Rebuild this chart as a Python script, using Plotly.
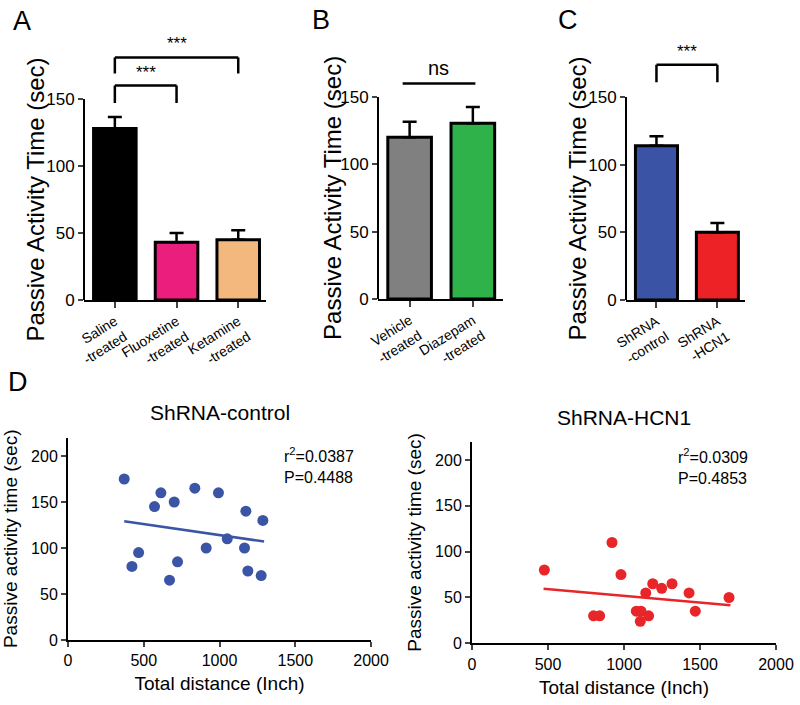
import plotly.graph_objects as go

FONT = "Arial, Liberation Sans, sans-serif"

# ---- panel A ----
a_labels = ["Saline<br>-treated", "Fluoxetine<br>-treated", "Ketamine<br>-treated"]
a_means = [128, 43, 45]
a_sem = [8.5, 7, 7]
a_colors = ["#000000", "#EC1E7D", "#F3B87D"]

# ---- panel B ----
b_labels = ["Vehicle<br>-treated", "Diazepam<br>-treated"]
b_means = [120, 130.5]
b_sem = [11.5, 12]
b_colors = ["#808080", "#2FB24A"]

# ---- panel C ----
c_labels = ["ShRNA<br>-control", "ShRNA<br>-HCN1"]
c_means = [114, 50]
c_sem = [7, 7]
c_colors = ["#3A53A4", "#EC2227"]

# ---- panel D ----
ctrl_dist = [371, 422, 466, 571, 613, 670, 701, 723, 837, 912, 993, 1051, 1165, 1174, 1187, 1275, 1286]
ctrl_time = [175, 80, 95, 145, 160, 65, 150, 85, 165, 100, 160, 110, 100, 140, 75, 70, 130]
ctrl_fit_x = [371, 1294]
ctrl_fit_y = [129, 107]

hcn_dist = [476, 800, 840, 921, 980, 1081, 1112, 1107, 1143, 1162, 1189, 1248, 1316, 1428, 1469, 1691]
hcn_time = [80, 30, 30, 110, 75, 35, 35, 24, 55, 30, 65, 60, 65, 55, 35, 50]
hcn_fit_x = [471, 1700]
hcn_fit_y = [59.6, 41.5]

fig = go.Figure()
shapes = []
annotations = []


def bar_panel(idx, labels, means, sem, colors, xdom, ydom, xmax, title_x):
    xa = "x" if idx == 1 else f"x{idx}"
    ya = "y" if idx == 1 else f"y{idx}"
    pos = list(range(len(labels)))
    fig.add_trace(
        go.Bar(
            x=pos,
            y=means,
            width=0.69,
            marker=dict(color=colors, line=dict(color="black", width=3)),
            error_y=dict(
                type="data",
                symmetric=False,
                array=sem,
                arrayminus=[0] * len(sem),
                color="black",
                thickness=2.5,
                width=7,
            ),
            xaxis=xa,
            yaxis=ya,
            showlegend=False,
        )
    )
    ax_name = "xaxis" if idx == 1 else f"xaxis{idx}"
    ay_name = "yaxis" if idx == 1 else f"yaxis{idx}"
    fig.layout[ax_name] = dict(
        domain=xdom,
        range=[-0.5, xmax],
        tickvals=pos,
        ticktext=labels,
        tickangle=-32,
        tickfont=dict(size=14, color="black"),
        showline=True,
        linecolor="black",
        linewidth=2,
        ticks="outside",
        ticklen=6,
        tickwidth=2,
        showgrid=False,
        zeroline=False,
        automargin=False,
        anchor=ya,
    )
    fig.layout[ay_name] = dict(
        domain=ydom,
        range=[0, 190],
        tickvals=[0, 50, 100, 150],
        tickfont=dict(size=17, color="black"),
        showline=False,
        ticks="outside",
        ticklen=5,
        tickwidth=2,
        showgrid=False,
        zeroline=False,
        automargin=False,
        anchor=xa,
    )
    # y axis line only up to 150
    shapes.append(dict(type="line", xref=f"{xa} domain", yref=ya, x0=0, x1=0, y0=0, y1=150,
                       line=dict(color="black", width=2)))
    # axis title centred on the 0-150 part of the axis
    annotations.append(dict(xref="paper", yref=ya, x=title_x, y=75, text="Passive Activity Time (sec)",
                            textangle=-90, showarrow=False, xanchor="center", yanchor="middle",
                            font=dict(size=24, color="black")))
    return xa, ya


def bracket(xa, ya, x0, x1, ytop, yleg, text):
    for (sx0, sy0, sx1, sy1) in [(x0, yleg, x0, ytop), (x0, ytop, x1, ytop), (x1, ytop, x1, yleg)]:
        shapes.append(dict(type="line", xref=xa, yref=ya, x0=sx0, y0=sy0, x1=sx1, y1=sy1,
                           line=dict(color="black", width=2.5)))
    annotations.append(dict(xref=xa, yref=ya, x=(x0 + x1) / 2, y=ytop, text=text, showarrow=False,
                            yanchor="bottom", yshift=2, font=dict(size=17, color="black")))


xa, ya = bar_panel(1, a_labels, a_means, a_sem, a_colors, [0.105, 0.3325], [0.5745, 0.9356], 2.45, 35 / 800)
bracket(xa, ya, 0, 1, 160, 147, "***")
bracket(xa, ya, 0, 2, 181, 169, "***")

xa, ya = bar_panel(2, b_labels, b_means, b_sem, b_colors, [0.4725, 0.629], [0.5759, 0.939], 1.48, 333 / 800)
shapes.append(dict(type="line", xref=xa, yref=ya, x0=-0.11, x1=1.04, y0=160, y1=160,
                   line=dict(color="black", width=2.5)))
annotations.append(dict(xref=xa, yref=ya, x=0.46, y=160, text="ns", showarrow=False,
                        yanchor="bottom", yshift=2, font=dict(size=20, color="black")))

xa, ya = bar_panel(3, c_labels, c_means, c_sem, c_colors, [0.7825, 0.931], [0.5745, 0.939], 1.45, 578 / 800)
bracket(xa, ya, 0, 1, 174, 161, "***")


def scatter_panel(idx, xs, ys, fx, fy, color, xdom, ydom, title, stats, sx, sy):
    xa = f"x{idx}"
    ya = f"y{idx}"
    fig.add_trace(go.Scatter(x=xs, y=ys, mode="markers", marker=dict(size=11, color=color),
                             xaxis=xa, yaxis=ya, showlegend=False))
    fig.add_trace(go.Scatter(x=fx, y=fy, mode="lines", line=dict(color=color, width=2.5),
                             xaxis=xa, yaxis=ya, showlegend=False))
    fig.layout[f"xaxis{idx}"] = dict(
        domain=xdom, range=[0, 2000], tickvals=[0, 500, 1000, 1500, 2000],
        tickfont=dict(size=16, color="black"), showline=True, linecolor="black", linewidth=2,
        ticks="outside", ticklen=5, tickwidth=2, showgrid=False, zeroline=False, automargin=False,
        title=dict(text="Total distance (Inch)", font=dict(size=19, color="black"), standoff=9),
        anchor=ya,
    )
    fig.layout[f"yaxis{idx}"] = dict(
        domain=ydom, range=[0, 220], tickvals=[0, 50, 100, 150, 200],
        tickfont=dict(size=16, color="black"), showline=True, linecolor="black", linewidth=2,
        ticks="outside", ticklen=5, tickwidth=2, showgrid=False, zeroline=False, automargin=False,
        title=dict(text="Passive activity time (sec)", font=dict(size=19, color="black"), standoff=8),
        anchor=xa,
    )
    annotations.append(dict(xref=f"{xa} domain", yref="paper", x=0.5, y=ydom[1] + 0.035,
                            text=title, showarrow=False, font=dict(size=21, color="black")))
    annotations.append(dict(xref=xa, yref=ya, x=sx, y=sy, text=stats, showarrow=False,
                            xanchor="left", yanchor="top", align="left",
                            font=dict(size=16, color="black")))


scatter_panel(4, ctrl_dist, ctrl_time, ctrl_fit_x, ctrl_fit_y, "#3A55A5",
              [0.085, 0.4638], [0.0922, 0.3793], "ShRNA-control",
              "r<sup>2</sup>=0.0387<br>P=0.4488", 1410, 214)
scatter_panel(5, hcn_dist, hcn_time, hcn_fit_x, hcn_fit_y, "#E8262A",
              [0.59, 0.97], [0.0875, 0.3735], "ShRNA-HCN1",
              "r<sup>2</sup>=0.0309<br>P=0.4853", 1340, 217)

# panel letters
for letter, px, py in [("A", 22, 21), ("B", 321, 20), ("C", 568, 20), ("D", 18, 382)]:
    annotations.append(dict(xref="paper", yref="paper", x=px / 800, y=1 - py / 705, text=letter,
                            showarrow=False, xanchor="center", yanchor="middle",
                            font=dict(size=27, color="black")))

fig.update_layout(
    width=800,
    height=705,
    margin=dict(l=0, r=0, t=0, b=0, autoexpand=False),
    paper_bgcolor="white",
    plot_bgcolor="white",
    font=dict(family=FONT, color="black"),
    shapes=shapes,
    annotations=annotations,
    bargap=0.3,
)

fig.write_html("out.html", config={"displayModeBar": False},
               post_script="document.body.style.margin='0';")
